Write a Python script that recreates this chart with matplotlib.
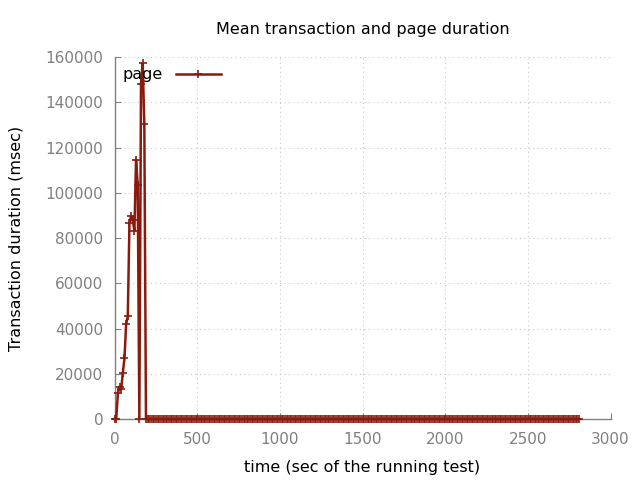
import matplotlib
matplotlib.use("Agg")
import matplotlib.pyplot as plt

# sample times (s) and mean page duration (msec)
ramp_times = [0, 10, 20, 30, 40, 50, 60, 70, 80, 90,
              100, 110, 120, 130, 140, 150, 160, 170, 180, 190]
ramp_values = [0, 0, 11400, 14300, 13100, 20500, 26800, 42000, 45500, 86500,
               89800, 87900, 83200, 114700, 103400, 0, 148300, 157400, 130300, 0]
# after ~190 s every sample sits at 0
idle_times = list(range(200, 2820, 10))
idle_values = [0] * len(idle_times)

times = ramp_times + idle_times
page_ms = ramp_values + idle_values

x_ticks = [0, 500, 1000, 1500, 2000, 2500, 3000]
y_ticks = [0, 20000, 40000, 60000, 80000, 100000, 120000, 140000, 160000]

line_color = "#8b1a0e"
tick_color = "#808080"

fig = plt.figure(figsize=(6.4, 4.8), dpi=100)
ax = fig.add_axes([0.179, 0.127, 0.775, 0.754])

ax.plot(times, page_ms, color=line_color, linewidth=1.8, marker="+",
        markersize=6, markeredgewidth=1.2, label="page", clip_on=False,
        zorder=3)

ax.set_xlim(0, 3000)
ax.set_ylim(0, 160000)
ax.set_xticks(x_ticks)
ax.set_yticks(y_ticks)
ax.tick_params(direction="in", length=4, colors=tick_color, labelsize=11,
               labelcolor=tick_color)
ax.tick_params(axis="x", pad=9)
ax.tick_params(axis="y", pad=8)

for side in ["top", "right"]:
    ax.spines[side].set_visible(False)
for side in ["left", "bottom"]:
    ax.spines[side].set_color(tick_color)
    ax.spines[side].set_linewidth(1)

ax.grid(True, linestyle=(0, (1, 3)), color="#c8c8c8", linewidth=0.8)
ax.set_axisbelow(True)

ax.set_title("Mean transaction and page duration", fontsize=11.5, pad=16.5)
ax.set_xlabel("time (sec of the running test)", fontsize=11.5, labelpad=9.5)
ax.set_ylabel("Transaction duration (msec)", fontsize=11.5, labelpad=16)

leg = ax.legend(loc="upper left", frameon=False, fontsize=11.5,
                markerfirst=False, handlelength=2.8,
                bbox_to_anchor=(-0.012, 1.012))

fig.savefig("out.png", dpi=100)
